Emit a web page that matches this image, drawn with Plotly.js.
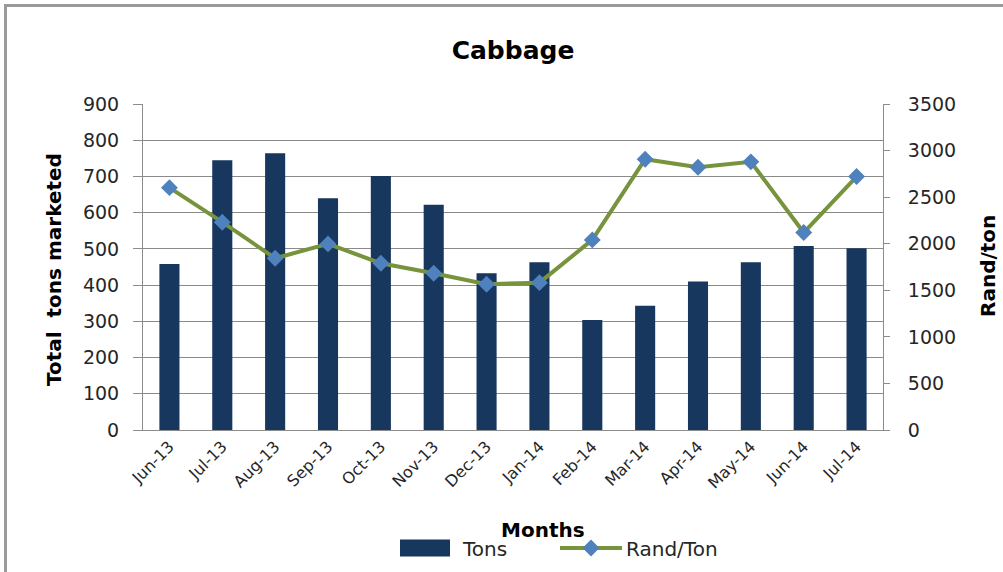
<!DOCTYPE html>
<html>
<head>
<meta charset="utf-8">
<script src="https://cdn.plot.ly/plotly-3.0.1.min.js"></script>
<style>
html,body{margin:0;padding:0;background:#fff;}
#wrap{position:relative;width:1003px;height:572px;}
#chart{position:absolute;left:0;top:0;width:1003px;height:572px;}
#frame{position:absolute;left:4px;top:4px;width:1003px;height:572px;border-left:3px solid #9a9a9a;border-top:3px solid #9a9a9a;pointer-events:none;}
</style>
</head>
<body>
<div id="wrap"><div id="chart"></div><div id="frame"></div></div>
<script>
const months = ["Jun-13","Jul-13","Aug-13","Sep-13","Oct-13","Nov-13","Dec-13","Jan-14","Feb-14","Mar-14","Apr-14","May-14","Jun-14","Jul-14"];
const tons = [458, 745, 764, 640, 701, 622, 433, 463, 304, 343, 410, 463, 508, 502];
const randPerTon = [2602, 2231, 1844, 1998, 1790, 1683, 1565, 1582, 2041, 2907, 2821, 2879, 2120, 2721];
const leftTicks = [0,100,200,300,400,500,600,700,800,900];
const rightTicks = [0,500,1000,1500,2000,2500,3000,3500];

const FONT = "DejaVu Sans, Open Sans, sans-serif";
const W = 1003, H = 572, L = 143, R = 120, T = 104, B = 142;
const pw = W - L - R, ph = H - T - B;

const traces = [
  {type:"bar", x: months, y: tons, name:"Tons", marker:{color:"#17375E"}, yaxis:"y"},
  {type:"scatter", mode:"lines+markers", x: months, y: randPerTon, name:"Rand/Ton", yaxis:"y2",
   line:{color:"#77933C", width:4}, marker:{symbol:"diamond", size:13, color:"#4F81BD"}}
];

const layout = {
  width: W, height: H,
  margin:{l:L, r:R, t:T, b:B},
  paper_bgcolor:"#fff", plot_bgcolor:"#fff",
  font:{family:FONT, color:"#262626", size:17},
  bargap:0.62,
  showlegend:true,
  title:{text:"<b>Cabbage</b>", font:{size:25, color:"#000", family:FONT}, x:0.5, xref:"paper", y:1-50/H, yref:"container", yanchor:"middle"},
  xaxis:{type:"category", range:[-0.5, 13.5], tickangle:-45, tickfont:{size:16, color:"#262626"},
         showline:true, linecolor:"#8c8c8c", linewidth:1, ticks:"", showgrid:false, fixedrange:true},
  yaxis:{range:[0,900], tickvals:leftTicks, ticktext:leftTicks.map(String), tickfont:{size:19, color:"#262626"},
         showline:true, linecolor:"#8c8c8c", linewidth:1, ticks:"outside", ticklen:9, tickcolor:"#8c8c8c",
         showgrid:true, gridcolor:"#8a8a8a", gridwidth:1.2, zeroline:false, ticklabelstandoff:10},
  yaxis2:{range:[0,3500], tickvals:rightTicks, ticktext:rightTicks.map(String), overlaying:"y", side:"right",
          tickfont:{size:19, color:"#262626"}, showline:true, linecolor:"#8c8c8c", linewidth:1,
          ticks:"outside", ticklen:6, tickcolor:"#8c8c8c", showgrid:false, zeroline:false, ticklabelstandoff:14},
  legend:{orientation:"h", x:(395-L)/pw, xanchor:"left", y:1-548/H, yref:"container", yanchor:"middle",
          font:{size:20, color:"#262626"}, itemwidth:58, entrywidth:90, entrywidthmode:"pixels",
          tracegroupgap:0, bgcolor:"rgba(0,0,0,0)"},
  annotations:[
    {text:"<b>Months</b>", xref:"paper", yref:"paper", x:(543-L)/pw, y:-(530-(T+ph))/ph, showarrow:false,
     font:{size:20, color:"#000"}, xanchor:"center", yanchor:"middle"},
    {text:"<b>Total  tons marketed</b>", xref:"paper", yref:"paper", x:-(L-54)/pw, y:1-(270-T)/ph, showarrow:false,
     textangle:-90, font:{size:20, color:"#000"}, xanchor:"center", yanchor:"middle"},
    {text:"<b>Rand/ton</b>", xref:"paper", yref:"paper", x:(988-L)/pw, y:1-(266-T)/ph, showarrow:false,
     textangle:-90, font:{size:20, color:"#000"}, xanchor:"center", yanchor:"middle"}
  ]
};

Plotly.newPlot("chart", traces, layout, {displayModeBar:false, staticPlot:true}).then(function(gd){
  const items = gd.querySelectorAll(".legend .traces");
  if (items.length >= 2) {
    items[0].querySelectorAll(".legendpoints path").forEach(function(p){
      p.setAttribute("transform", "translate(0,0)");
      p.setAttribute("d", "M5,-8.5H55V8.5H5Z");
    });
    items[1].querySelectorAll(".legendlines path").forEach(function(p){
      p.setAttribute("d", "M2,0h62");
    });
    items[1].querySelectorAll(".legendpoints path").forEach(function(p){
      p.setAttribute("transform", "translate(33,0)");
    });
  }
});
</script>
</body>
</html>
